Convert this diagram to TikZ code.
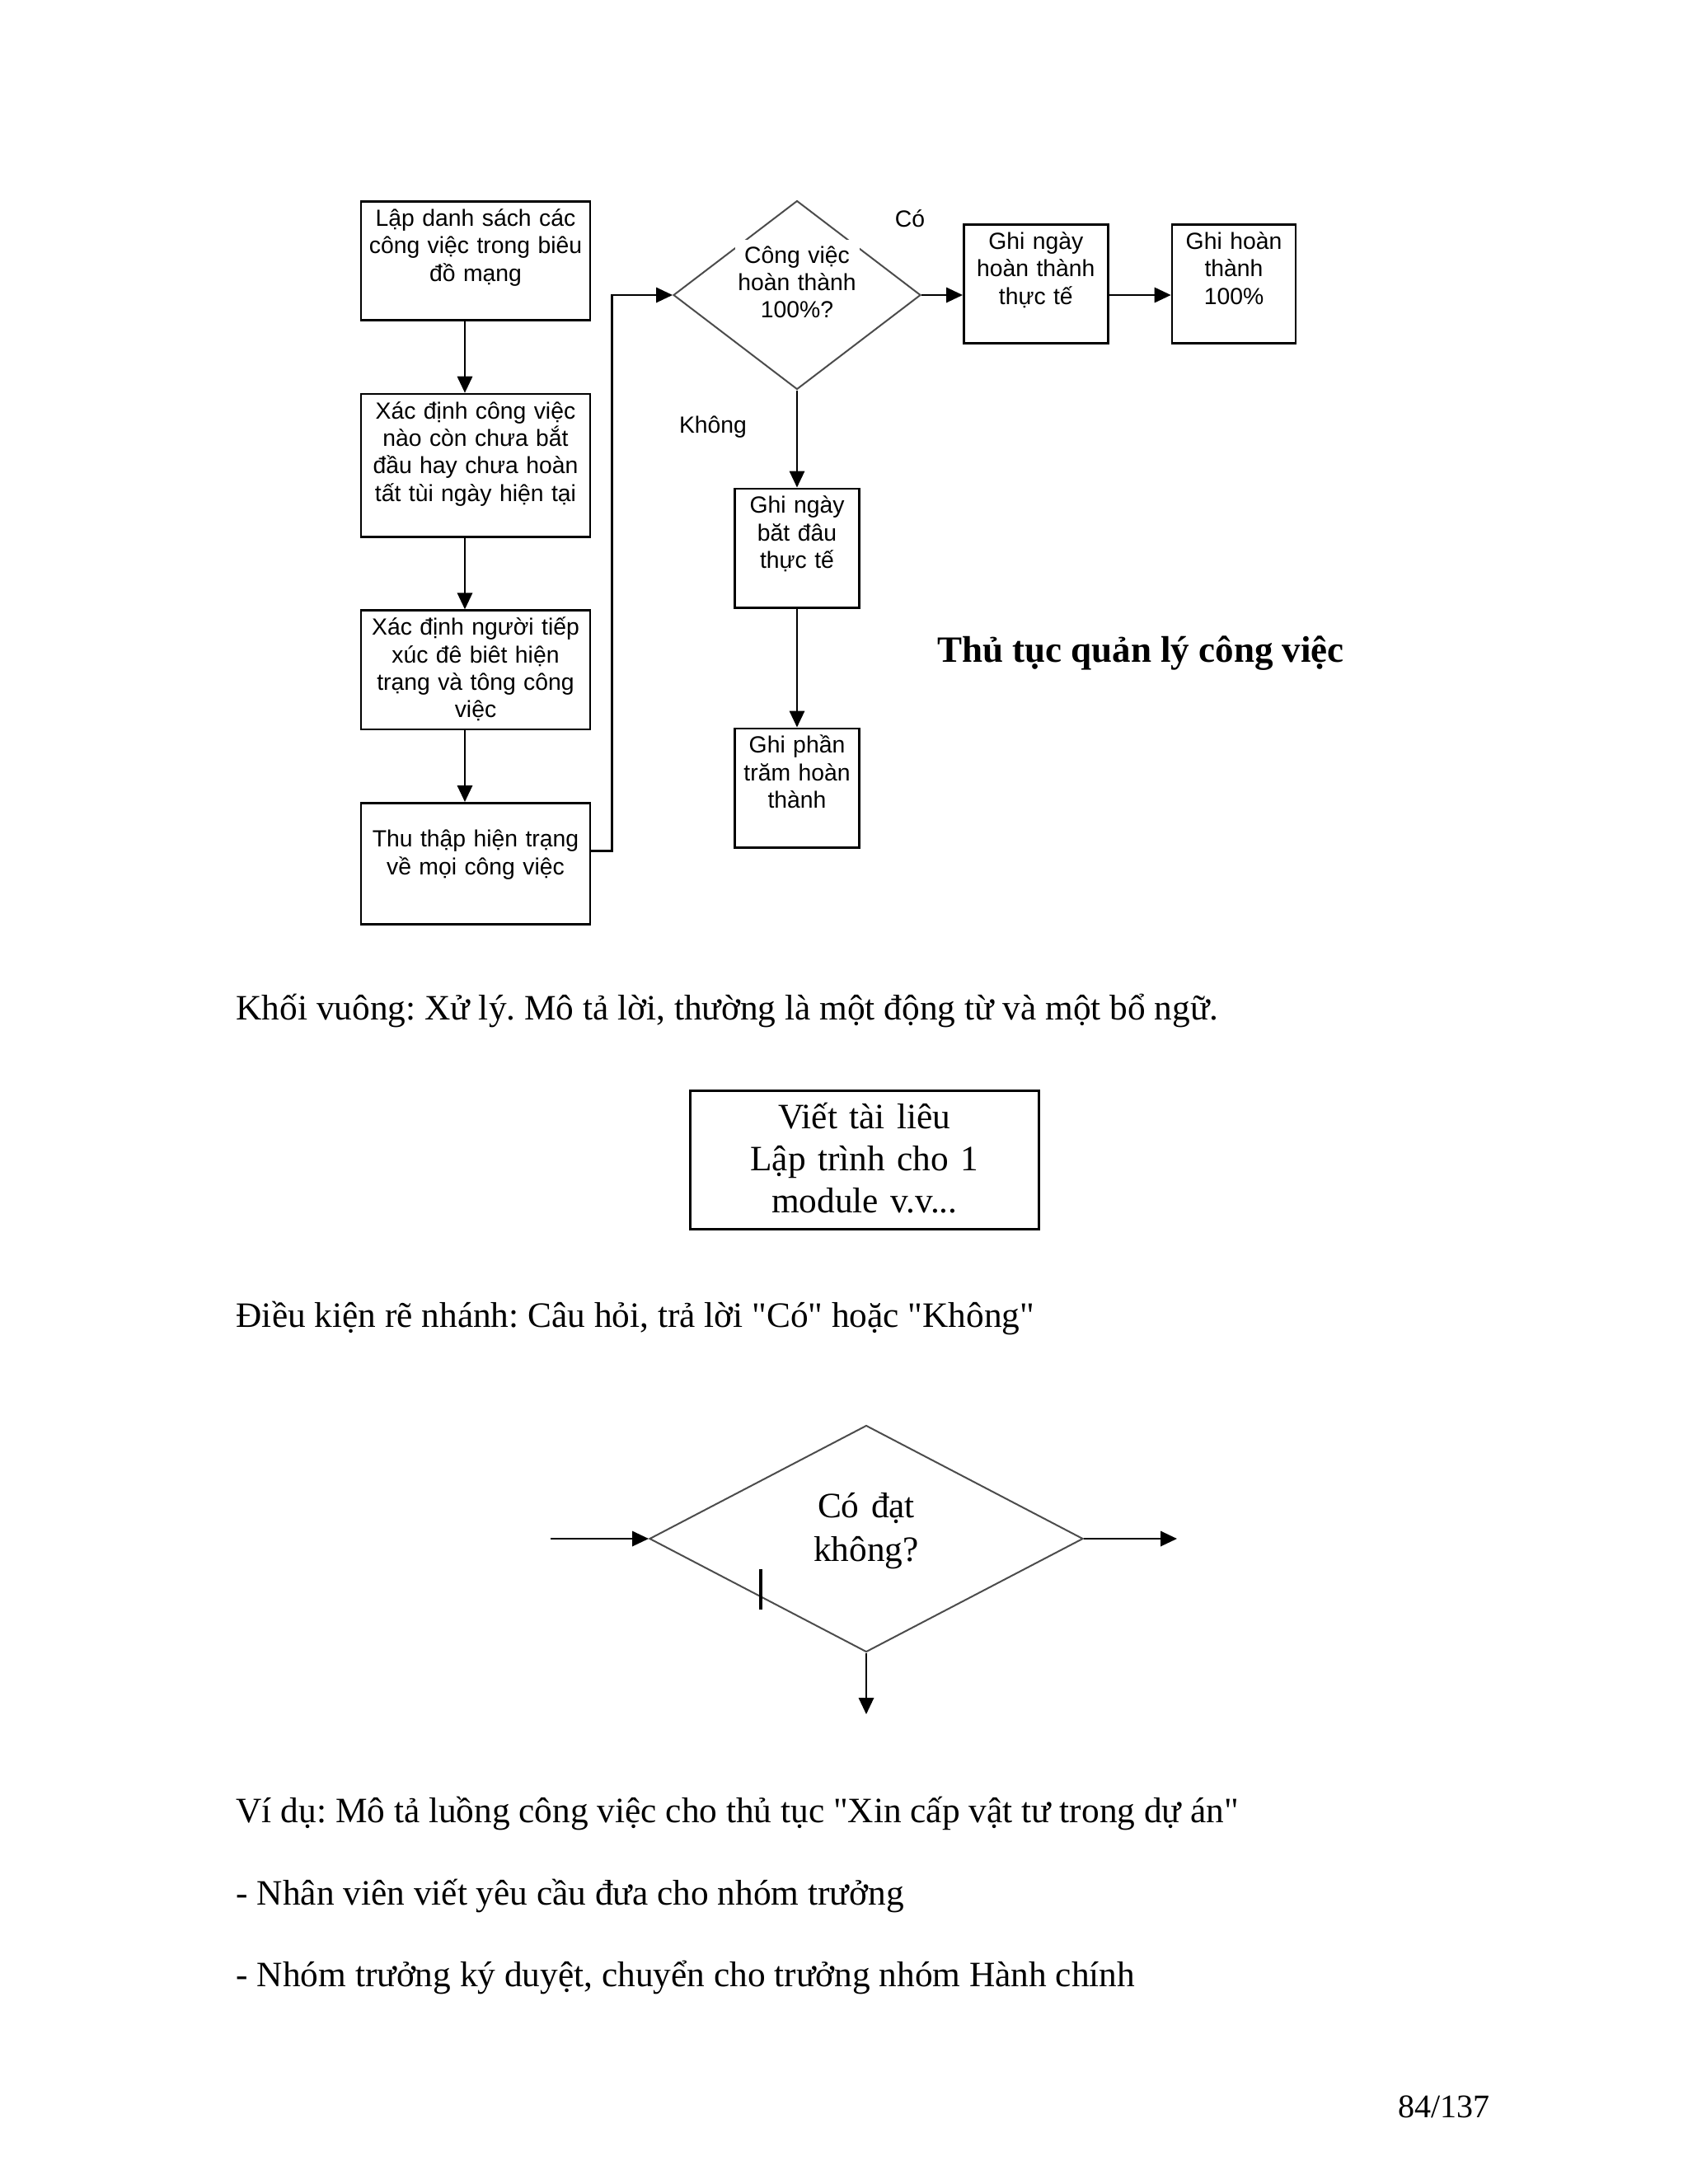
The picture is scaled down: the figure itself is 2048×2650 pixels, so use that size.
\documentclass[tikz,border=0pt]{standalone}
\usepackage{fontspec}
\setmainfont{Liberation Serif}[Ligatures=TeXOff]
\setsansfont{Liberation Sans}
\usepackage{tikz}
\usetikzlibrary{positioning, shapes.geometric, arrows.meta}

\begin{document}
\frenchspacing
\begin{tikzpicture}[x=0.3pt, y=-0.3pt, node distance=26pt, >={Triangle[length=6pt, width=5.5pt]},
  every node/.style={font=\sffamily\fontsize{8.5}{10}\selectfont}]
\tikzstyle{block}=[rectangle, draw, line width=0.8pt, align=center, text width=83.4pt, inner sep=0pt, text height=9pt, text depth=34.3pt]
\tikzstyle{decision}=[diamond, draw=black!70, line width=0.6pt, inner sep=0pt, minimum width=90pt, minimum height=68.7pt]
\tikzstyle{body}=[anchor=base west, inner sep=0pt, font=\rmfamily\fontsize{13}{15.6}\selectfont]
\tikzstyle{link}=[->, line width=0.7pt]
\useasboundingbox (0,0) rectangle (2048,2650);

% thu tuc quan ly cong viec
\node[block, anchor=north] (list) at (577,243) {Lập danh sách các\\công việc trong biêu\\đồ mạng};
\node[block, below=of list, text depth=43pt] (find) {Xác định công việc\\nào còn chưa bắt\\đầu hay chưa hoàn\\tất tùi ngày hiện tại};
\node[block, below=of find] (contact) {Xác định người tiếp\\xúc đê biêt hiện\\trạng và tông công\\việc};
\node[block, below=of contact, text height=16pt, text depth=28.1pt] (collect) {Thu thập hiện trạng\\về mọi công việc};
\node[decision] (check) at (967,358) {};
\node[fill=white, text width=45.3pt, align=center, inner sep=0pt, text height=8.5pt, text depth=26pt, anchor=north] (checktext) at (967,290) {Công việc\\hoàn thành\\100\%?};
\node (yes) at (1104,265) {Có};
\node (no) at (865,518) {Không};
\node[block, text width=52.5pt, anchor=north west] (endday) at (1168,271) {Ghi ngày\\hoàn thành\\thực tế};
\node[block, text width=45pt, right=22.5pt of endday] (done) {Ghi hoàn\\thành\\100\%};
\node[block, text width=45.3pt, below=35.4pt of check] (startday) {Ghi ngày\\băt đâu\\thực tế};
\node[block, text width=45.3pt, below=43.2pt of startday] (percent) {Ghi phần\\trăm hoàn\\thành};
\node[font=\rmfamily\bfseries\fontsize{13.5}{16}\selectfont] (title) at (1384,793) {Thủ tục quản lý công việc};
\draw[link] ([xshift=-3.9pt]list.south) -- ([xshift=-3.9pt]find.north);
\draw[link] ([xshift=-3.9pt]find.south) -- ([xshift=-3.9pt]contact.north);
\draw[link] ([xshift=-3.9pt]contact.south) -- ([xshift=-3.9pt]collect.north);
\draw[link] ([yshift=4.6pt]collect.east) -- ++(25,0) |- (check.west);
\draw[link] (check.east) -- (check.east -| endday.west);
\draw[link] (check.east -| endday.east) -- (check.east -| done.west);
\draw[link] (check.south) -- (startday.north);
\draw[link] (startday.south) -- (percent.north);

% khoi vuong va dieu kien
\node[body] (squarenote) at (286,1237) {Khối vuông: Xử lý. Mô tả lời, thường là một động từ và một bổ ngữ.};
\node[draw, line width=0.8pt, text width=126.9pt, align=center, inner sep=0pt, text height=13.8pt, text depth=36.6pt, font=\rmfamily\fontsize{13}{15.3}\selectfont, anchor=north west] (sample) at (836,1322) {Viết tài liêu\\Lập trình cho 1\\module v.v...};
\node[body] (branchnote) at (286,1610) {Điều kiện rẽ nhánh: Câu hỏi, trả lời "Có" hoặc "Không"};
\node[decision, minimum width=157.8pt, minimum height=82.5pt, text width=45pt, text height=8pt, text depth=23.6pt, align=center, font=\rmfamily\fontsize{13}{16}\selectfont] (ask) at (1051,1867) {Có đạt\\không?};
\coordinate (askin) at (668,1867);
\coordinate (askout) at (1428,1867);
\coordinate (askdown) at (1051,2080);
\draw[link] (askin) -- (ask.west);
\draw[link] (ask.east) -- (askout);
\draw[link] (ask.south) -- (askdown);
\draw[line width=1.2pt] (923,1904) -- (923,1953);

% vi du
\node[body] (example) at (286,2211) {Ví dụ: Mô tả luồng công việc cho thủ tục "Xin cấp vật tư trong dự án"};
\node[body] (stepone) at (286,2311) {- Nhân viên viết yêu cầu đưa cho nhóm trưởng};
\node[body] (steptwo) at (286,2410) {- Nhóm trưởng ký duyệt, chuyển cho trưởng nhóm Hành chính};
\node[body, anchor=base east, font=\rmfamily\fontsize{12}{14}\selectfont] (page) at (1808,2569) {84/137};
\end{tikzpicture}
\end{document}
